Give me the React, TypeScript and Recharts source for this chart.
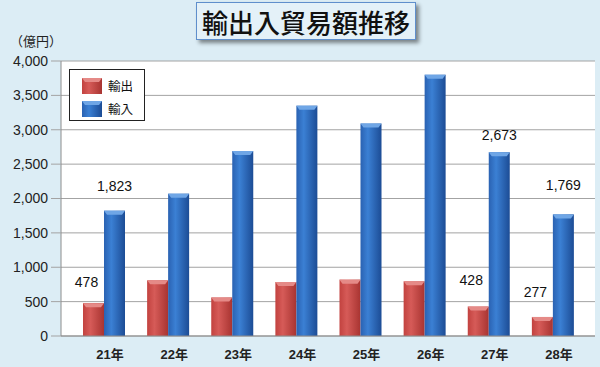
import { BarChart, Bar, XAxis, YAxis, CartesianGrid, LabelList } from "recharts"

const years = ['21年', '22年', '23年', '24年', '25年', '26年', '27年', '28年']
const exportsOku = [478, 810, 560, 785, 820, 795, 428, 277]
const importsOku = [1823, 2070, 2690, 3350, 3090, 3800, 2673, 1769]
const yTicks = [0, 500, 1000, 1500, 2000, 2500, 3000, 3500, 4000]
const labeledYears = ['21年', '27年', '28年']
const seriesNames = { exp: '輸出', imp: '輸入' }

const data = years.map((y, i) => ({
  year: y,
  exp: exportsOku[i],
  imp: importsOku[i],
  expLabel: labeledYears.includes(y) ? exportsOku[i] : null,
  impLabel: labeledYears.includes(y) ? importsOku[i] : null,
}))

const colors: any = {
  exp: { left: '#c2423f', mid: '#d65b58', right: '#a83431', cap: '#e58a87' },
  imp: { left: '#2a62b2', mid: '#3b80d4', right: '#1c4c95', cap: '#6fa6e6' },
}

// hand placed label lifts, like in the original sheet
const labelLift: any = { 'exp-0': 21, 'exp-6': 27, 'exp-7': 25, 'imp-0': 25, 'imp-6': 17, 'imp-7': 29 }

const font = '"Liberation Sans", Arial, "Noto Sans CJK JP", sans-serif'

function BevelBar(props: any) {
  const { x, y, width, height, kind } = props
  if (!height || height <= 0) return null
  const cap = Math.min(4, height)
  return (
    <g>
      <rect x={x} y={y} width={width} height={height} fill={`url(#grad-${kind})`} />
      <polygon
        points={`${x},${y} ${x + width},${y} ${x + width - 3},${y + cap} ${x + 3},${y + cap}`}
        fill={colors[kind].cap}
      />
    </g>
  )
}

function makeLabel(kind: string) {
  return (props: any) => {
    const { x, y, width, value, index } = props
    if (value === null || value === undefined) return null
    const lift = labelLift[`${kind}-${index}`] ?? 24
    const dx = kind === 'exp' ? -7 : 0
    return (
      <text
        x={x + width / 2 + dx}
        y={y - lift}
        textAnchor="middle"
        dominantBaseline="central"
        fontSize={14}
        fontFamily={font}
        fill="#111"
      >
        {Number(value).toLocaleString('en-US')}
      </text>
    )
  }
}

function XTick(props: any) {
  const { x, y, payload } = props
  return (
    <text x={x + 6} y={y + 23} textAnchor="middle" fontSize={13} fontWeight="bold" fontFamily={font} fill="#222">
      {payload.value}
    </text>
  )
}

function LegendBox() {
  return (
    <div style={{ position: 'absolute', left: 69, top: 69, width: 74, height: 50, border: '1px solid #222', background: '#fff', fontFamily: '"Noto Sans CJK JP", sans-serif', fontSize: 12.5, color: '#111' }}>
      {(['exp', 'imp'] as const).map((k, i) => (
        <div key={k} style={{ display: 'flex', alignItems: 'center', marginLeft: 12, marginTop: i === 0 ? 8 : 7, height: 16 }}>
          <svg width={20} height={16} style={{ display: 'block' }}>
            <defs>
              <linearGradient id={`lg-${k}`} x1="0" y1="0" x2="1" y2="0">
                <stop offset="0%" stopColor={colors[k].left} />
                <stop offset="35%" stopColor={colors[k].mid} />
                <stop offset="100%" stopColor={colors[k].right} />
              </linearGradient>
            </defs>
            <rect x={0} y={0} width={20} height={16} fill={`url(#lg-${k})`} />
            <polygon points="0,0 20,0 17,4 3,4" fill={colors[k].cap} />
          </svg>
          <span style={{ marginLeft: 6, lineHeight: '16px' }}>{seriesNames[k]}</span>
        </div>
      ))}
    </div>
  )
}

export default function App() {
  return (
    <div style={{ position: 'fixed', left: 0, top: 0, width: 600, height: 367, background: '#dcedf5', overflow: 'hidden' }}>
      <BarChart
        width={600}
        height={367}
        data={data}
        margin={{ top: 61, right: 5, left: 0, bottom: 0 }}
        barGap={0}
        barSize={21}
      >
        <defs>
          {(['exp', 'imp'] as const).map((k) => (
            <linearGradient key={k} id={`grad-${k}`} x1="0" y1="0" x2="1" y2="0">
              <stop offset="0%" stopColor={colors[k].left} />
              <stop offset="35%" stopColor={colors[k].mid} />
              <stop offset="100%" stopColor={colors[k].right} />
            </linearGradient>
          ))}
        </defs>
        <CartesianGrid vertical={false} stroke="#a3a3a3" fill="#ffffff" />
        <XAxis
          dataKey="year"
          height={31}
          padding={{ left: 11, right: 10 }}
          tickLine={false}
          tickSize={0}
          tickMargin={0}
          axisLine={{ stroke: '#8c8c8c' }}
          tick={<XTick />}
          interval={0}
        />
        <XAxis xAxisId="top" dataKey="year" orientation="top" height={0} tick={false} tickLine={false} axisLine={{ stroke: '#9db8d4' }} />
        <YAxis
          width={61}
          domain={[0, 4000]}
          ticks={yTicks}
          tickFormatter={(v: number) => v.toLocaleString('en-US')}
          tick={{ fontSize: 14, fontFamily: font, fill: '#222' }}
          tickSize={10}
          tickMargin={3}
          tickLine={{ stroke: '#a3a3a3' }}
          axisLine={{ stroke: '#8c8c8c' }}
          interval={0}
        />
        <YAxis yAxisId="r" orientation="right" width={0} tick={false} tickLine={false} axisLine={{ stroke: '#9db8d4' }} />
        <Bar dataKey="exp" name="輸出" fill={colors.exp.mid} isAnimationActive={false} shape={(p: any) => <BevelBar {...p} kind="exp" />}>
          <LabelList dataKey="expLabel" content={makeLabel('exp')} />
        </Bar>
        <Bar dataKey="imp" name="輸入" fill={colors.imp.mid} isAnimationActive={false} shape={(p: any) => <BevelBar {...p} kind="imp" />}>
          <LabelList dataKey="impLabel" content={makeLabel('imp')} />
        </Bar>
      </BarChart>
      <LegendBox />
      <div style={{ position: 'absolute', left: 10, top: 31, fontSize: 13, fontFamily: '"Noto Sans CJK JP", sans-serif', color: '#222' }}>（億円）</div>
      <div
        style={{
          position: 'absolute', left: 196, top: 2, width: 218, height: 36,
          border: '1px solid #5f8fcc', background: '#e4f1f8',
          boxShadow: '3px 3px 4px rgba(0,0,0,0.45)',
          display: 'flex', alignItems: 'center', justifyContent: 'center',
          fontFamily: '"Noto Sans CJK JP", sans-serif', fontSize: 26, fontWeight: 500, color: '#111',
          letterSpacing: 0,
        }}
      >
        輸出入貿易額推移
      </div>
    </div>
  )
}
